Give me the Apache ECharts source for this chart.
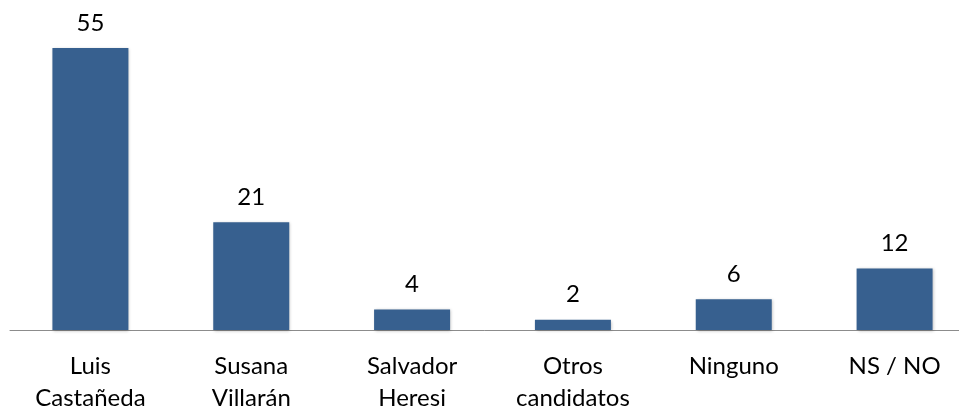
<!DOCTYPE html>
<html><head><meta charset="utf-8">
<script src="https://cdn.jsdelivr.net/npm/echarts@6/dist/echarts.min.js"></script>
<style>html,body{margin:0;padding:0;background:#fff}#c{width:959px;height:407px}</style>
</head><body><div id="c"></div>
<script>
const categories = ['Luis\nCastañeda', 'Susana\nVillarán', 'Salvador\nHeresi', 'Otros\ncandidatos', 'Ninguno', 'NS / NO'];
const values = [55, 21, 4, 2, 6, 12];
const chart = echarts.init(document.getElementById('c'));
const font = 'Lato';
chart.setOption({
  animation: false,
  grid: { left: 10, width: 965, top: 48, bottom: 77, containLabel: false, outerBoundsMode: 'none' },
  xAxis: {
    type: 'category', data: categories,
    axisLine: { lineStyle: { color: '#8c8c8c', width: 1 } },
    axisTick: { show: false },
    axisLabel: { color: '#000', fontFamily: font, fontSize: 24, lineHeight: 32, margin: 20, interval: 0 }
  },
  yAxis: { type: 'value', min: 0, max: 55, show: false, splitLine: { show: false } },
  series: [{
    type: 'bar', data: values, barWidth: 76,
    itemStyle: { color: '#37608f', shadowColor: 'rgba(0,0,0,0.25)', shadowBlur: 3, shadowOffsetX: 1, shadowOffsetY: 1 },
    label: { show: true, position: 'top', distance: 13, color: '#000', fontFamily: font, fontSize: 24 }
  }]
});
</script></body></html>
